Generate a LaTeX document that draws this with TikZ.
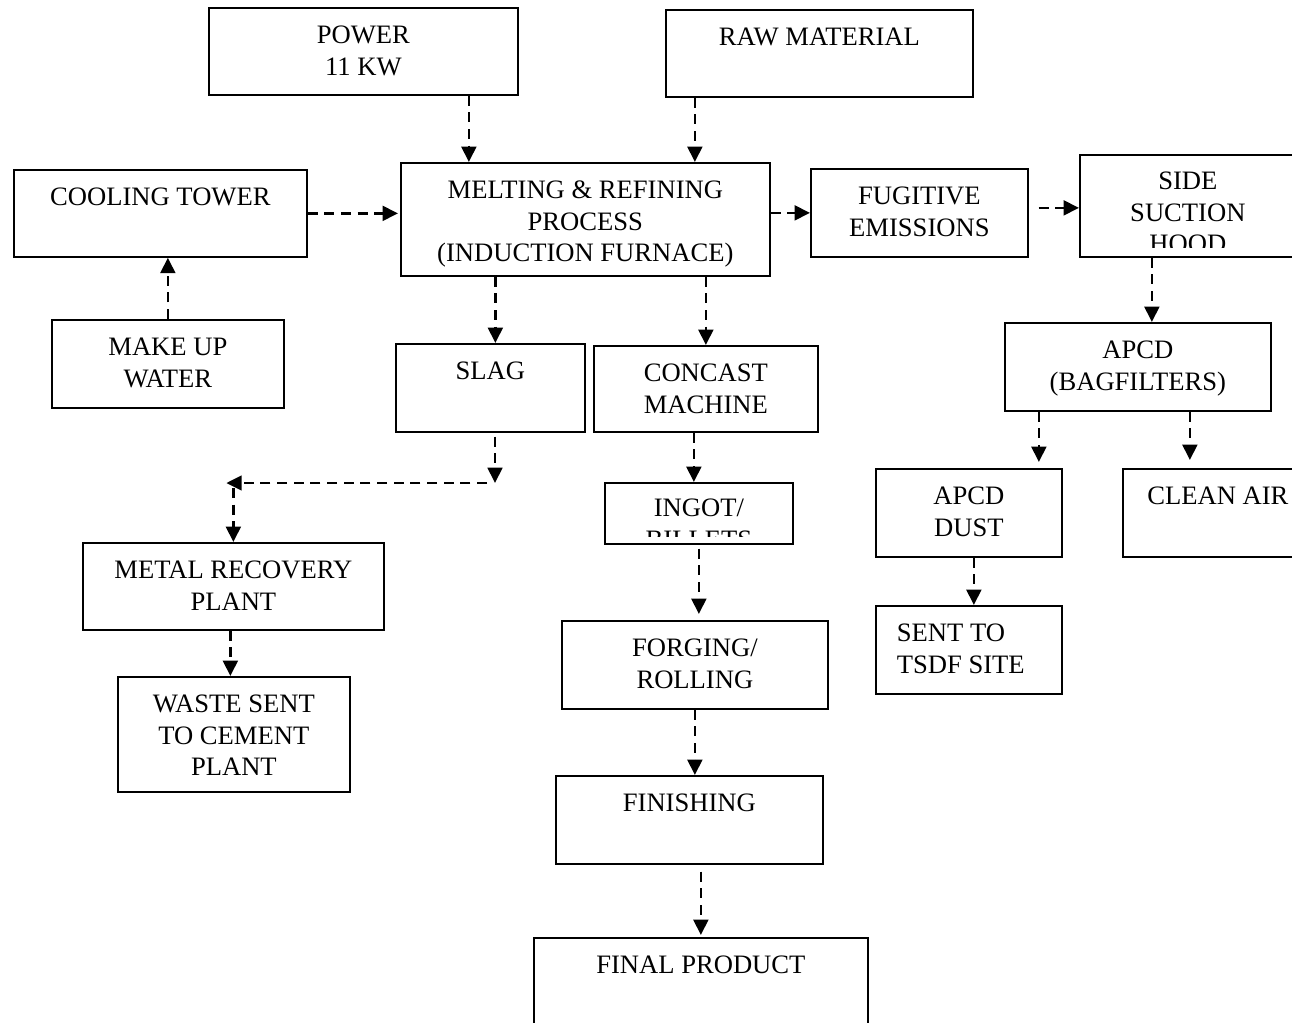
\documentclass[tikz,border=0pt]{standalone}
\usepackage{fontspec}
\setmainfont{Liberation Serif}
\usetikzlibrary{arrows.meta}

\newlength\pxu
\setlength\pxu{0.75pt}
\newcommand{\boxtext}[4][\centering]{\parbox[t][#3\pxu][t]{#2\pxu}{#1\rule{0pt}{26.9pt}#4}}

\tikzset{
	box/.style={draw, rectangle, line width=1.3pt, inner sep=0pt, anchor=north west},
	flow/.style={-{Triangle[length=11.5pt,width=11pt]}, line width=2pt, dash pattern=on 7.5pt off 5pt},
}

\begin{document}
\begin{tikzpicture}[x=0.75pt, y=-0.75pt, font=\fontsize{19.95}{23.6}\selectfont]
		\useasboundingbox (0,0) rectangle (1292,1022);
		\clip (0,0) rectangle (1292,1022);

		\node[box] (power) at (208,7) {\boxtext{309}{87}{POWER\\11 KW}};
		\node[box] (raw) at (665,9) {\boxtext{307}{87}{RAW MATERIAL}};
		\node[box] (cool) at (13,169) {\boxtext{293}{87}{COOLING TOWER}};
		\node[box] (makeup) at (51,319) {\boxtext{232}{88}{MAKE UP\\WATER}};
		\node[box] (melt) at (400,162) {\boxtext{369}{113}{MELTING \& REFINING\\PROCESS\\(INDUCTION FURNACE)}};
		\node[box] (fug) at (810,168) {\boxtext{217}{88}{FUGITIVE\\EMISSIONS}};
		\node[box, path picture={
			\clip (path picture bounding box.north west) rectangle ([yshift=9\pxu]path picture bounding box.south east);
			\node[inner sep=0pt, anchor=north] at ([yshift=2\pxu]path picture bounding box.north) {\boxtext{216}{102}{SIDE\\SUCTION\\HOOD}};
		}] (side) at (1079,154) {\boxtext{216}{102}{}};
		\node[box] (apcd) at (1004,322) {\boxtext{266}{88}{APCD\\(BAGFILTERS)}};
		\node[box] (dust) at (875,468) {\boxtext{186}{88}{APCD\\DUST}};
		\node[box] (clean) at (1122,468) {\boxtext{190}{88}{CLEAN AIR}};
		\node[box] (tsdf) at (875,605) {\boxtext[\raggedright\leftskip=21\pxu]{186}{88}{SENT TO\\TSDF SITE}};
		\node[box] (slag) at (395,343) {\boxtext{189}{88}{SLAG}};
		\node[box] (concast) at (593,345) {\boxtext{224}{86}{CONCAST\\MACHINE}};
		\node[box, path picture={
			\clip (path picture bounding box.north west) rectangle ([yshift=7\pxu]path picture bounding box.south east);
			\node[inner sep=0pt, anchor=north] at ([yshift=3\pxu]path picture bounding box.north) {\boxtext{188}{61}{INGOT/\\BILLETS}};
		}] (ingot) at (604,482) {\boxtext{188}{61}{}};
		\node[box] (metal) at (82,542) {\boxtext{301}{87}{METAL RECOVERY\\PLANT}};
		\node[box] (waste) at (117,676) {\boxtext{232}{115}{WASTE SENT\\TO CEMENT\\PLANT}};
		\node[box] (forge) at (561,620) {\boxtext{266}{88}{FORGING/\\ROLLING}};
		\node[box] (finish) at (555,775) {\boxtext{267}{88}{FINISHING}};
		\node[box] (final) at (533,937) {\boxtext{334}{100}{FINAL PRODUCT}};

		\coordinate (slagdrop) at (495,483);

		\draw[flow] ([xshift=105.5\pxu]power.south) -- ([xshift=105.5\pxu]power.south |- melt.north);
		\draw[flow] ([xshift=-124.5\pxu]raw.south) -- ([xshift=-124.5\pxu]raw.south |- melt.north);
		\draw[flow] (cool.east) -- ([xshift=-2\pxu]cool.east -| melt.west);
		\draw[flow] (makeup.north) -- (makeup.north |- cool.south);
		\draw[flow] (melt.east |- fug.west) -- (fug.west);
		\draw[flow] ([xshift=10\pxu,yshift=-2\pxu]fug.east |- side.west) -- ([yshift=-2\pxu]side.west);
		\draw[flow] ([xshift=14\pxu]apcd.north |- side.south) -- ([xshift=14\pxu]apcd.north);
		\draw[flow] ([xshift=70\pxu]dust.north |- apcd.south) -- ([xshift=70\pxu,yshift=6\pxu]dust.north);
		\draw[flow] ([xshift=-28\pxu]clean.north |- apcd.south) -- ([xshift=-28\pxu,yshift=8\pxu]clean.north);
		\draw[flow] ([xshift=5\pxu]tsdf.north |- dust.south) -- ([xshift=5\pxu]tsdf.north);
		\draw[flow] ([xshift=5\pxu]slag.north |- melt.south) -- ([xshift=5\pxu]slag.north);
		\draw[flow] (concast.north |- melt.south) -- (concast.north);
		\draw[flow] ([yshift=-4\pxu]slag.south -| slagdrop) -- (slagdrop);
		\draw[flow] ([xshift=-8\pxu]slagdrop) -- ([xshift=-7\pxu]metal.north |- slagdrop);
		\draw[flow] ([yshift=-5\pxu]metal.north |- slagdrop) -- (metal.north);
		\draw[flow] ([xshift=-3\pxu]metal.south) -- ([xshift=-3\pxu]metal.south |- waste.north);
		\draw[flow] ([xshift=-5\pxu]ingot.north |- concast.south) -- ([xshift=-5\pxu]ingot.north);
		\draw[flow] ([yshift=-4\pxu]ingot.south) -- ([yshift=6\pxu]ingot.south |- forge.north);
		\draw[flow] (forge.south) -- (forge.south |- finish.north);
		\draw[flow] ([yshift=-7\pxu]finish.south -| final.north) -- ([yshift=2\pxu]final.north);
	\end{tikzpicture}
\end{document}
